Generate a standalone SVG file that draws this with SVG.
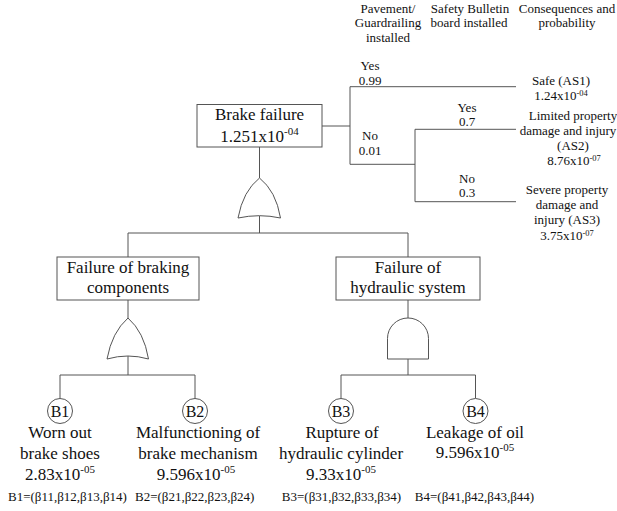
<svg xmlns="http://www.w3.org/2000/svg" width="617" height="511" viewBox="0 0 617 511">
<style>
text{font-family:"Liberation Serif","Times New Roman",serif;fill:#111;text-anchor:middle}
.m{font-size:17px}
.s{font-size:13px}
.b{font-size:13px;text-anchor:start}
.e1{font-size:11px}
.e2{font-size:8.5px}
.box{fill:#fff;stroke:#555;stroke-width:1}
.gate{fill:#fff;stroke:#555;stroke-width:1}
.ln{fill:none;stroke:#555;stroke-width:1}
</style>
<rect width="617" height="511" fill="#fff"/>
<g id="connectors" class="ln">
<path d="M259.5,147V178M259.5,216V233M128,233H408M128,233V257M408,233V257"/>
<path d="M128,300V318M128,356V375M60,375H195M60,375V398.5M195,375V398.5"/>
<path d="M408,300V318M408,359V375M341,375H475.5M341,375V398.5M475.5,375V398.5"/>
<path d="M322,126H350M350,86.7V164.3M350,86.7H516M350,164.3H415M415,129.3V201.7M415,129.3H516M415,201.7H516"/>
</g>
<g id="headers">
<text class="s" x="388" y="13.3">Pavement/</text>
<text class="s" x="388" y="27.3">Guardrailing</text>
<text class="s" x="388" y="41.7">installed</text>
<text class="s" x="470" y="13.3">Safety Bulletin</text>
<text class="s" x="469" y="27.3">board installed</text>
<text class="s" x="567" y="13.3">Consequences and</text>
<text class="s" x="567" y="27.3">probability</text>
</g>
<g id="branch-labels">
<text class="s" x="370" y="70">Yes</text>
<text class="s" x="370" y="85">0.99</text>
<text class="s" x="370" y="140">No</text>
<text class="s" x="370" y="155">0.01</text>
<text class="s" x="467" y="111.7">Yes</text>
<text class="s" x="467" y="126">0.7</text>
<text class="s" x="467" y="182.7">No</text>
<text class="s" x="467" y="197.3">0.3</text>
</g>
<g id="AS1">
<text class="s" x="561" y="85">Safe (AS1)</text>
<text class="s" x="561" y="100">1.24x10<tspan class="e2" dy="-4">-04</tspan></text>
</g>
<g id="AS2">
<text class="s" x="573" y="120">Limited property</text>
<text class="s" x="568" y="135">damage and injury</text>
<text class="s" x="573" y="150">(AS2)</text>
<text class="s" x="574" y="164.5">8.76x10<tspan class="e2" dy="-4">-07</tspan></text>
</g>
<g id="AS3">
<text class="s" x="567" y="194">Severe property</text>
<text class="s" x="567" y="209">damage and</text>
<text class="s" x="567" y="224">injury (AS3)</text>
<text class="s" x="567" y="239.5">3.75x10<tspan class="e2" dy="-4">-07</tspan></text>
</g>
<g id="brake-failure">
<rect class="box" x="197" y="104.5" width="125" height="42.5"/>
<text class="m" x="259.5" y="120">Brake failure</text>
<text class="m" x="259.5" y="141.7">1.251x10<tspan class="e1" dy="-7">-04</tspan></text>
</g>
<g id="or-gate-top">
<path class="gate" d="M238,218Q243,191 259.5,178Q276,191 280.5,218Q259.5,213.4 238,218Z"/>
</g>
<g id="braking-components">
<rect class="box" x="57" y="257" width="142" height="43"/>
<text class="m" x="128" y="273">Failure of braking</text>
<text class="m" x="128" y="293">components</text>
</g>
<g id="hydraulic-system">
<rect class="box" x="336" y="257" width="144" height="43"/>
<text class="m" x="408" y="273">Failure of</text>
<text class="m" x="408" y="293">hydraulic system</text>
</g>
<g id="or-gate-left">
<path class="gate" d="M107,359Q112,332 128,318Q144,332 148.5,359Q128,353 107,359Z"/>
</g>
<g id="and-gate">
<path class="gate" d="M387.5,359V338.5A20.5,20.5 0 0 1 428.5,338.5V359Z"/>
</g>
<g id="B1">
<circle class="box" cx="60" cy="411" r="12.5"/>
<text class="m" x="60" y="416.8" style="font-size:16px">B1</text>
<text class="m" x="60" y="438">Worn out</text>
<text class="m" x="60" y="459">brake shoes</text>
<text class="m" x="60" y="480">2.83x10<tspan class="e1" dy="-7">-05</tspan></text>
<text class="b" x="8" y="501">B1=(β11,β12,β13,β14)</text>
</g>
<g id="B2">
<circle class="box" cx="195" cy="411" r="12.5"/>
<text class="m" x="195" y="416.8" style="font-size:16px">B2</text>
<text class="m" x="198" y="438">Malfunctioning of</text>
<text class="m" x="198" y="459">brake mechanism</text>
<text class="m" x="196" y="480">9.596x10<tspan class="e1" dy="-7">-05</tspan></text>
<text class="b" x="135" y="501">B2=(β21,β22,β23,β24)</text>
</g>
<g id="B3">
<circle class="box" cx="341" cy="411" r="12.5"/>
<text class="m" x="341" y="416.8" style="font-size:16px">B3</text>
<text class="m" x="342" y="438">Rupture of</text>
<text class="m" x="341" y="459">hydraulic cylinder</text>
<text class="m" x="341" y="480">9.33x10<tspan class="e1" dy="-7">-05</tspan></text>
<text class="s" x="341.5" y="501">B3=(β31,β32,β33,β34)</text>
</g>
<g id="B4">
<circle class="box" cx="475.5" cy="411" r="12.5"/>
<text class="m" x="475.5" y="416.8" style="font-size:16px">B4</text>
<text class="m" x="475" y="438">Leakage of oil</text>
<text class="m" x="475" y="458">9.596x10<tspan class="e1" dy="-7">-05</tspan></text>
<text class="s" x="474.5" y="501">B4=(β41,β42,β43,β44)</text>
</g>
</svg>
